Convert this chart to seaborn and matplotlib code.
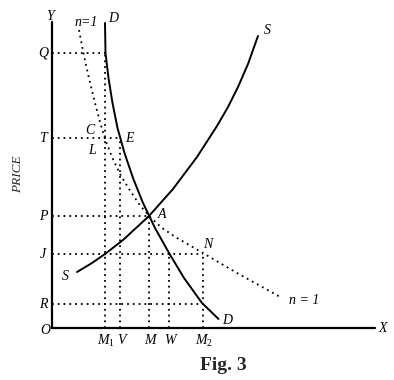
import matplotlib
matplotlib.use("Agg")
import matplotlib.pyplot as plt
import seaborn as sns
import pandas as pd

# ---- data (quantity, price) ----
d_qty   = [53, 53.5, 56.5, 60.5, 65.5, 72.5, 81, 91, 103, 117, 132, 150, 166.5]
d_price = [305, 275, 250, 225, 200, 175, 150, 125, 100, 75, 50, 25, 9]

s_qty   = [25, 40, 53, 71, 97, 121, 145, 165, 176, 186, 196, 206]
s_price = [56, 65, 74, 88, 112, 139, 171, 202, 221, 241, 264, 292]

n_qty   = [27, 31, 36, 42, 48, 53, 60, 68, 77, 87, 97, 110, 125, 151, 185, 230]
n_price = [298, 277, 254, 229, 206, 189, 171, 154, 139, 124, 112, 100, 90, 75, 55, 30]

price_labels = ["Q", "T", "P", "J", "R"]
price_levels = [275, 190, 112, 74, 24]
price_ends   = [53.5, 68, 97, 151, 151]    # how far each horizontal guide runs

qty_labels = ["$M_1$", "V", "M", "W", "$M_2$"]
qty_levels = [53.5, 68, 97, 117, 151]
qty_tops   = [275, 190, 112, 74, 74]       # how high each vertical guide runs

axis_top, axis_right = 306, 323

sns.set_style("white")
plt.rcParams["font.family"] = ["Liberation Serif", "DejaVu Serif"]
plt.rcParams["mathtext.fontset"] = "custom"
plt.rcParams["mathtext.it"] = "Liberation Serif:italic"
plt.rcParams["mathtext.rm"] = "Liberation Serif"

fig = plt.figure(figsize=(3.94, 3.80), dpi=100)
ax = fig.add_axes([0, 0, 1, 1])

# axes
ax.plot([0, 0], [0, axis_top], color="black", lw=1.6)
ax.plot([0, axis_right], [0, 0], color="black", lw=1.6)

dot = (0, (1, 2.2))
for lvl, end in zip(price_levels, price_ends):
    ax.plot([0, end], [lvl, lvl], color="black", lw=1.3, linestyle=dot)
for q, top in zip(qty_levels, qty_tops):
    ax.plot([q, q], [0, top], color="black", lw=1.3, linestyle=dot)

df_d = pd.DataFrame({"q": d_qty, "p": d_price})
df_s = pd.DataFrame({"q": s_qty, "p": s_price})
df_n = pd.DataFrame({"q": n_qty, "p": n_price})
sns.lineplot(data=df_d, x="q", y="p", sort=False, estimator=None, color="black", lw=1.4, ax=ax)
sns.lineplot(data=df_s, x="q", y="p", sort=False, estimator=None, color="black", lw=1.4, ax=ax)
sns.lineplot(data=df_n, x="q", y="p", sort=False, estimator=None, color="black", lw=1.3,
             linestyle=dot, ax=ax)
ax.set_xlim(-52, 342)
ax.set_ylim(-52, 328)
ax.axis("off")

fs = 10
lab = dict(fontsize=fs, style="italic", ha="center", va="center", color="black")
for name, lvl in zip(price_labels, price_levels):
    ax.text(-9, lvl, name, **lab)
for name, q in zip(qty_labels, qty_levels):
    ax.text(q + (0.5 if name != "V" else 1.5), -13, name, **lab)

ax.text(-2, 311, "Y", **lab)
ax.text(-7, -2, "O", **lab)
ax.text(331, 0, "X", **lab)
ax.text(34, 306, "n=1", **lab)
ax.text(61, 310, "D", **lab)
ax.text(38, 197, "C", **lab)
ax.text(40, 178, "L", **lab)
ax.text(77, 190, "E", **lab)
ax.text(110, 113, "A", **lab)
ax.text(13, 51, "S", **lab)
ax.text(215, 298, "S", **lab)
ax.text(156, 83, "N", **lab)
ax.text(175, 8, "D", **lab)
ax.text(252, 28, "n = 1", **lab)
ax.text(-34, 154, "PRICE", fontsize=9.5, style="italic", rotation=90, ha="center", va="center")
ax.text(171, -37, "Fig. 3", fontsize=14, fontweight="bold", ha="center", va="center")

fig.savefig("out.png", dpi=100, facecolor="white")
